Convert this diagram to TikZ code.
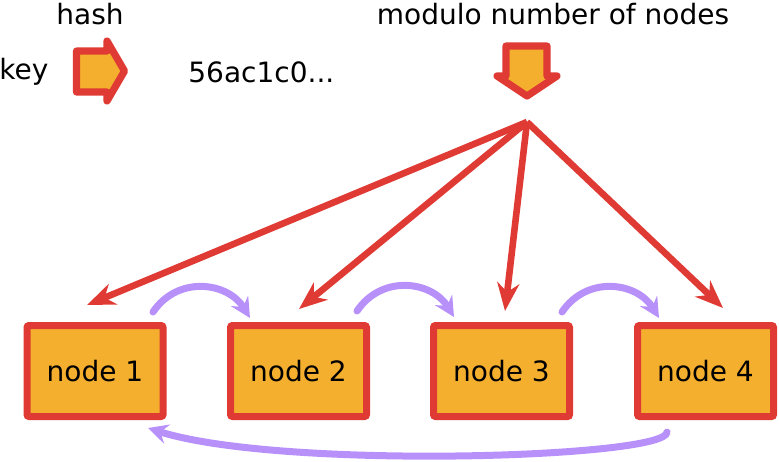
\documentclass[tikz,border=0pt]{standalone}
\usepackage{fontspec}
\setmainfont{DejaVu Sans}
\usetikzlibrary{arrows.meta}
\definecolor{boxred}{RGB}{224,58,52}
\definecolor{boxorange}{RGB}{245,175,46}
\definecolor{lav}{RGB}{184,144,250}
\begin{document}
\begin{tikzpicture}[x=0.5pt,y=-0.5pt,
  every node/.style={font=\fontsize{14pt}{16pt}\selectfont, inner sep=0pt},
  srv/.style={draw=boxred, fill=boxorange, line width=3.5pt, rounded corners=1pt,
    minimum width=68pt, minimum height=45.5pt},
  bigarrow/.style={draw=boxred, fill=boxorange, line width=3.6pt, line join=round},
  redarr/.style={draw=boxred, line width=3.3pt,
    -{Stealth[length=14pt,width=11pt,inset=4.5pt]}},
  purparr/.style={draw=lav, line width=3.5pt, line cap=round,
    -{Stealth[length=10pt,width=10pt,inset=3.5pt]}}]
\useasboundingbox (0,0) rectangle (779,461);
% texts
\node (hash) at (90,14) {hash};
\node[anchor=west] (key) at (-1,72) {key};
\node[anchor=west] (val) at (188,72) {56ac1c0...};
\node (mod) at (553,14) {modulo number of nodes};
% hash arrow
\draw[bigarrow] (76.5,51) -- (107,51) -- (107,41) -- (124.5,71) -- (107,101) -- (107,92) -- (76.5,92) -- cycle;
% modulo arrow
\draw[bigarrow] (506,46) -- (547,46) -- (547,76) -- (557,76) -- (527,96) -- (497,76) -- (506,76) -- cycle;
% nodes
\node[srv] (n1) at (95,371) {node 1};
\node[srv] (n2) at (298.5,371) {node 2};
\node[srv] (n3) at (501.5,371) {node 3};
\node[srv] (n4) at (705.5,371) {node 4};
% red arrows
\coordinate (apex) at (527,122);
\coordinate (t1) at (87,305);
\coordinate (t2) at (299,309);
\coordinate (t3) at (505,311);
\coordinate (t4) at (723,308);
\draw[redarr] (apex) -- (t1);
\draw[redarr] (apex) -- (t2);
\draw[redarr] (apex) -- (t3);
\draw[redarr] (apex) -- (t4);
% purple arrows
\coordinate (p1s) at (153,312);
\coordinate (p1e) at (250,318);
\coordinate (p2s) at (357,311);
\coordinate (p2e) at (454,317);
\coordinate (p3s) at (562,312);
\coordinate (p3e) at (659,318);
\coordinate (p4s) at (667,432);
\coordinate (p4e) at (148,428);
\draw[purparr] (p1s) .. controls (178,275) and (228,282) .. (p1e);
\draw[purparr] (p2s) .. controls (382,274) and (432,281) .. (p2e);
\draw[purparr] (p3s) .. controls (587,275) and (637,282) .. (p3e);
\draw[purparr] (p4s) .. controls (668,458) and (280,470) .. (p4e);
\end{tikzpicture}
\end{document}
